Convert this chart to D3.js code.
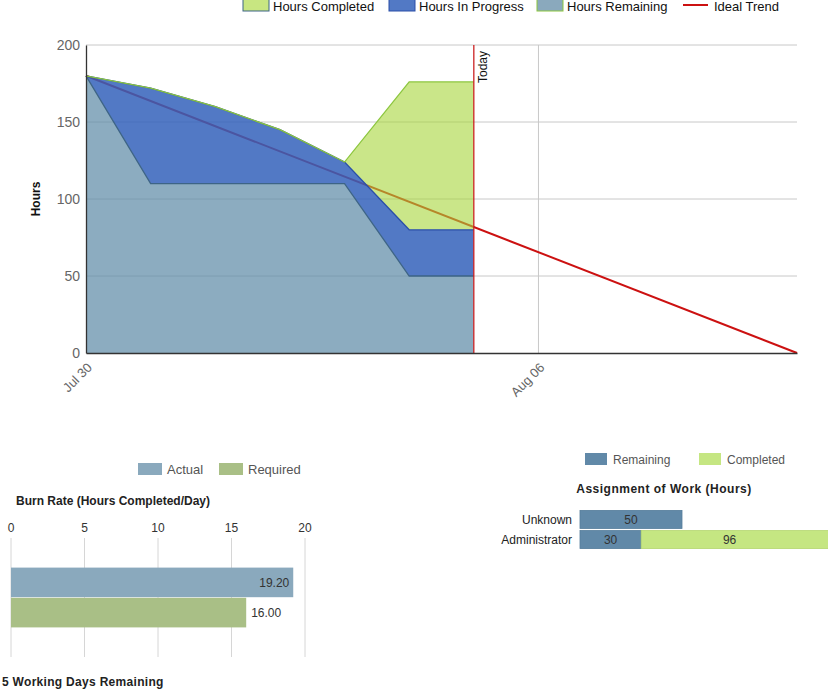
<!DOCTYPE html>
<html><head><meta charset="utf-8">
<script src="https://cdn.jsdelivr.net/npm/d3@7"></script>
<style>body{margin:0;background:#fff;}svg{display:block;font-family:Arial,"Liberation Sans",sans-serif;}</style>
</head><body><svg id="c" width="828" height="689"></svg>
<script>
// ---- Data ----
const dates = ["2012-07-30","2012-07-31","2012-08-01","2012-08-02","2012-08-03","2012-08-04","2012-08-05"];
const hoursRemaining = [180,110,110,110,110,50,50];
const hoursInProgress = [0,62,50,35,14,30,30];
const hoursCompleted = [0,0,0,0,0,96,96];
const idealDates = ["2012-07-30","2012-08-10"];
const idealValues = [180,0];
const todayDate = "2012-08-05";
const xTickDates = ["2012-07-30","2012-08-06"];
const xTickLabels = ["Jul 30","Aug 06"];
const yTicks = [0,50,100,150,200];
const seriesNames = ["Hours Completed","Hours In Progress","Hours Remaining","Ideal Trend"];

const burnCategories = ["Actual","Required"];
const burnValues = [19.2,16.0];
const burnTicks = [0,5,10,15,20];

const workPeople = ["Unknown","Administrator"];
const workRemaining = [50,30];
const workCompleted = [0,96];
const workSeries = ["Remaining","Completed"];

const svg = d3.select("#c");
const parse = d3.timeParse("%Y-%m-%d");

// ---- Main burndown ----
const x = d3.scaleTime().domain([parse("2012-07-30"), parse("2012-08-10")]).range([86, 797]);
const y = d3.scaleLinear().domain([0,200]).range([353,45]);

const g = svg.append("g");
g.selectAll(".hg").data(yTicks.filter(d=>d>0)).join("line")
  .attr("x1",86).attr("x2",797).attr("y1",d=>y(d)).attr("y2",d=>y(d))
  .attr("stroke","#c8c8c8").attr("stroke-width",1);
g.selectAll(".vg").data(xTickDates.slice(1)).join("line")
  .attr("x1",d=>x(parse(d))).attr("x2",d=>x(parse(d))).attr("y1",45).attr("y2",353)
  .attr("stroke","#c8c8c8").attr("stroke-width",1);

const idealData = idealDates.map((d,i)=>({d:parse(d),v:idealValues[i]}));
g.append("path").datum(idealData)
  .attr("d", d3.line().x(d=>x(d.d)).y(d=>y(d.v)))
  .attr("fill","none").attr("stroke","#cc1111").attr("stroke-width",2);

const rows = dates.map((d,i)=>({d:parse(d), r:hoursRemaining[i], p:hoursInProgress[i], c:hoursCompleted[i]}));
const stack = d3.stack().keys(["r","p","c"])(rows);
const area = d3.area().x(d=>x(d.data.d)).y0(d=>y(d[0])).y1(d=>y(d[1]));
const topLine = d3.line().x(d=>x(d.data.d)).y(d=>y(d[1]));
const fills = [
  {fill:"#5f8ca8", op:0.72, stroke:"#3d6486"},
  {fill:"#3462bb", op:0.85, stroke:"#2a4fa8"},
  {fill:"#a6d63a", op:0.6, stroke:"#8cc63f"}
];
stack.forEach((s,i)=>{
  g.append("path").datum(s).attr("d",area).attr("fill",fills[i].fill).attr("fill-opacity",fills[i].op);
});
stack.forEach((s,i)=>{
  g.append("path").datum(s).attr("d",topLine).attr("fill","none").attr("stroke",fills[i].stroke).attr("stroke-width",1.3);
});

const tx = x(parse(todayDate));
g.append("line").attr("x1",tx).attr("x2",tx).attr("y1",45).attr("y2",353).attr("stroke","#cc2222").attr("stroke-width",1.3);
g.append("text").attr("transform",`translate(${tx+13},83) rotate(-90)`).attr("font-size",12).attr("fill","#111")
  .text("Today");

const yAxis = g.append("g").attr("transform","translate(86,0)")
  .call(d3.axisLeft(y).tickValues(yTicks).tickSize(0).tickPadding(6));
yAxis.select(".domain").attr("stroke","#333").attr("stroke-width",1.3);
yAxis.selectAll("text").attr("font-size",14).attr("fill","#666").attr("font-family","Arial");
const xAxis = g.append("g").attr("transform","translate(0,353)")
  .call(d3.axisBottom(x).tickValues(xTickDates.map(parse)).tickFormat((d,i)=>xTickLabels[i]).tickSize(0));
xAxis.select(".domain").attr("stroke","#333").attr("stroke-width",1.3);
xAxis.selectAll("text").attr("font-size",13).attr("fill","#666").attr("text-anchor","end")
  .attr("transform","translate(1,10) rotate(-45)").attr("dy","0.35em").attr("font-family","Arial");
g.append("text").attr("transform","translate(40,199) rotate(-90)").attr("text-anchor","middle")
  .attr("font-size",12).attr("font-weight","bold").attr("fill","#111").text("Hours");

// top legend
const legX = [243,389,537,683];
const legColors = ["#c8e681","#5279c5","#8aa9bd"];
seriesNames.forEach((n,i)=>{
  if(i<3){
    svg.append("rect").attr("x",legX[i]).attr("y",-1).attr("width",26).attr("height",12)
      .attr("fill",legColors[i]).attr("stroke",fills[i].stroke).attr("stroke-width",1);
  } else {
    svg.append("line").attr("x1",legX[i]).attr("x2",legX[i]+25).attr("y1",5).attr("y2",5).attr("stroke","#cc1111").attr("stroke-width",2);
  }
  svg.append("text").attr("x",legX[i]+(i<3?30:31)).attr("y",11).attr("font-size",13).attr("fill","#111").text(n);
});

// ---- Burn rate ----
const bx = d3.scaleLinear().domain([0,20]).range([11,305]);
const by = d3.scaleBand().domain(burnCategories).range([538,657]).paddingInner(0.02).paddingOuter(0.98);
const burnColors = ["#8aa9bd","#a9bf86"];
const bg = svg.append("g");
bg.selectAll(".bgl").data(burnTicks).join("line")
  .attr("x1",d=>bx(d)).attr("x2",d=>bx(d)).attr("y1",538).attr("y2",657).attr("stroke","#d6d6d6");
bg.selectAll(".bt").data(burnTicks).join("text")
  .attr("x",d=>bx(d)).attr("y",532).attr("text-anchor","middle").attr("font-size",12).attr("fill","#333").text(d=>d);
bg.selectAll(".bb").data(burnValues).join("rect")
  .attr("x",bx(0)).attr("y",(d,i)=>by(burnCategories[i])).attr("width",d=>bx(d)-bx(0)).attr("height",by.bandwidth())
  .attr("fill",(d,i)=>burnColors[i]);
bg.selectAll(".bl").data(burnValues).join("text")
  .attr("x",(d,i)=> i===0 ? bx(d)-4 : bx(d)+5)
  .attr("text-anchor",(d,i)=> i===0 ? "end":"start")
  .attr("y",(d,i)=>by(burnCategories[i])+by.bandwidth()/2+1).attr("dominant-baseline","middle")
  .attr("font-size",12).attr("fill","#333").text(d=>d.toFixed(2));
const blx = [138,219];
burnCategories.forEach((c,i)=>{
  svg.append("rect").attr("x",blx[i]).attr("y",463).attr("width",24).attr("height",12).attr("fill",burnColors[i]);
  svg.append("text").attr("x",blx[i]+29).attr("y",474).attr("font-size",13).attr("fill","#555").text(c);
});
svg.append("text").attr("x",16).attr("y",505).attr("font-size",12).attr("font-weight","bold").attr("fill","#222")
  .text("Burn Rate (Hours Completed/Day)");
svg.append("text").attr("x",2).attr("y",686).attr("font-size",12).attr("font-weight","bold").attr("fill","#222")
  .attr("letter-spacing","0.3").text("5 Working Days Remaining");

// ---- Assignment of work ----
const wx = d3.scaleLinear().domain([0,50]).range([580,682]);
const wy = d3.scaleBand().domain(workPeople).range([510,549]).paddingInner(0.1).paddingOuter(0.02);
const workColors = ["#6189a8","#c5e682"];
const wg = svg.append("g");
const wrows = workPeople.map((p,i)=>({p, Remaining:workRemaining[i], Completed:workCompleted[i]}));
const wstack = d3.stack().keys(workSeries)(wrows);
wstack.forEach((s,k)=>{
  wg.selectAll(".w"+k).data(s.filter(d=>d[1]>d[0])).join("rect")
    .attr("x",d=>wx(d[0])).attr("width",d=>wx(d[1])-wx(d[0]))
    .attr("y",d=>wy(d.data.p)).attr("height",wy.bandwidth())
    .attr("fill",workColors[k]).attr("stroke",k===0?"#557d9b":"#b5d672").attr("stroke-width",0.8);
  wg.selectAll(".wt"+k).data(s.filter(d=>d[1]>d[0])).join("text")
    .attr("x",d=>(wx(d[0])+Math.min(wx(d[1]),828))/2 - (k===1?5:0)).attr("y",d=>wy(d.data.p)+wy.bandwidth()/2+1)
    .attr("text-anchor","middle").attr("dominant-baseline","middle").attr("font-size",12).attr("fill","#333")
    .text(d=>d[1]-d[0]);
});
wg.selectAll(".wl").data(workPeople).join("text")
  .attr("x",572).attr("y",d=>wy(d)+wy.bandwidth()/2+1).attr("text-anchor","end").attr("dominant-baseline","middle")
  .attr("font-size",12).attr("fill","#222").text(d=>d);
const wlx = [585,699];
workSeries.forEach((c,i)=>{
  svg.append("rect").attr("x",wlx[i]).attr("y",453).attr("width",22).attr("height",12).attr("fill",workColors[i]);
  svg.append("text").attr("x",wlx[i]+28).attr("y",464).attr("font-size",12).attr("fill","#555").text(c);
});
svg.append("text").attr("x",664).attr("y",493).attr("text-anchor","middle").attr("font-size",12).attr("font-weight","bold")
  .attr("fill","#222").attr("letter-spacing","0.5").text("Assignment of Work (Hours)");
</script></body></html>
